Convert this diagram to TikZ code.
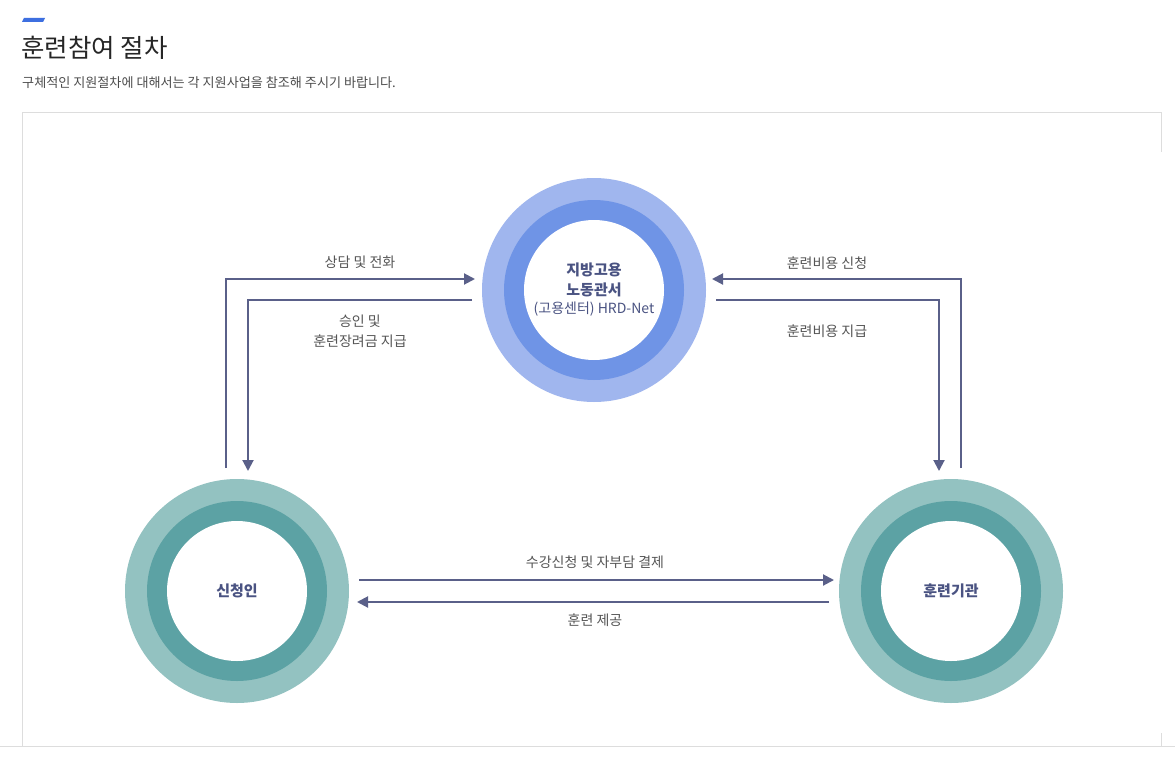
\documentclass[tikz,border=0pt]{standalone}
\usepackage{fontspec}
\setmainfont{Noto Sans CJK KR}
\usetikzlibrary{arrows.meta}
\definecolor{blueout}{HTML}{A0B6EE}
\definecolor{bluemid}{HTML}{6F94E6}
\definecolor{tealout}{HTML}{93C2C1}
\definecolor{tealmid}{HTML}{5CA2A4}
\definecolor{arrowc}{HTML}{5A6089}
\definecolor{nodetext}{HTML}{4A5382}
\definecolor{labeltext}{HTML}{555555}
\definecolor{framec}{HTML}{DDDDDD}
\definecolor{accent}{HTML}{3D6FE0}
\tikzset{
  flow/.style={draw=arrowc, line width=2pt, -{Triangle[length=11pt,width=11pt]}},
  lbl/.style={text=labeltext, font=\fontsize{14}{18}\selectfont, align=center},
  ctext/.style={text=nodetext, font=\fontsize{15}{19}\selectfont\bfseries, align=center},
  frame/.style={draw=framec, line width=1pt},
}
\begin{document}
\begin{tikzpicture}[x=1pt,y=-1pt]
\useasboundingbox (0,0) rectangle (1175,760);
\fill[white] (0,0) rectangle (1175,760);
% header
\fill[accent] (24,18) -- (45,18) -- (43,22) -- (22,22) -- cycle;
\node[anchor=base west, inner sep=0pt, text=black!85, font=\fontsize{25.5}{30}\selectfont] (title) at (21,58) {훈련참여 절차};
\node[anchor=base west, inner sep=0pt, text=black!70, font=\fontsize{13.1}{16}\selectfont] (sub) at (22,87) {구체적인 지원절차에 대해서는 각 지원사업을 참조해 주시기 바랍니다.};
% frame
\draw[frame] (22,746) -- (22,112) -- (1161,112) -- (1161,152);
\draw[frame] (0,746) -- (1175,746);
\draw[frame] (1161,733) -- (1161,746);
% circles
\fill[blueout] (594,290) circle (112);
\fill[bluemid] (594,290) circle (90);
\fill[white] (594,290) circle (70);
\fill[tealout] (237,591) circle (112);
\fill[tealmid] (237,591) circle (90);
\fill[white] (237,591) circle (70);
\fill[tealout] (951,591) circle (112);
\fill[tealmid] (951,591) circle (90);
\fill[white] (951,591) circle (70);
\node[ctext, inner sep=0pt] (office) at (594,290) {지방고용\\[1pt]노동관서\\[-1pt]{\mdseries\fontsize{14}{18}\selectfont (고용센터) HRD-Net}};
\node[ctext] (appl) at (237,591) {신청인};
\node[ctext] (inst) at (951,591) {훈련기관};
% connector endpoints
\coordinate (a1s) at (226,468);
\coordinate (a1e) at (475,279);
\coordinate (a2s) at (472,300);
\coordinate (a2e) at (248,471);
\coordinate (b1s) at (961,468);
\coordinate (b1e) at (712,279);
\coordinate (b2s) at (716,300);
\coordinate (b2e) at (939,471);
\coordinate (c1s) at (359,580);
\coordinate (c1e) at (834,580);
\coordinate (c2s) at (829,602);
\coordinate (c2e) at (357,602);
\draw[flow] (a1s) |- (a1e);
\draw[flow] (a2s) -| (a2e);
\draw[flow] (b1s) |- (b1e);
\draw[flow] (b2s) -| (b2e);
\draw[flow] (c1s) -- (c1e);
\draw[flow] (c2s) -- (c2e);
% labels
\node[lbl] (l1) at (360,262) {상담 및 전화};
\node[lbl] (l2) at (360,331) {승인 및\\[2pt]훈련장려금 지급};
\node[lbl] (l3) at (827,263) {훈련비용 신청};
\node[lbl] (l4) at (827,331) {훈련비용 지급};
\node[lbl] (l5) at (595,562) {수강신청 및 자부담 결제};
\node[lbl] (l6) at (595,620) {훈련 제공};
\end{tikzpicture}
\end{document}
